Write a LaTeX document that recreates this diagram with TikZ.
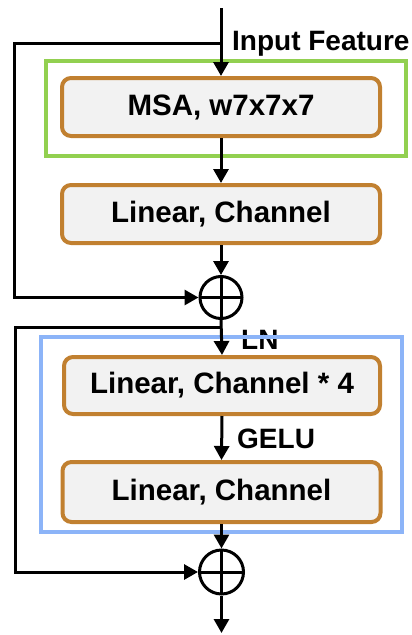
\documentclass[tikz,border=0pt]{standalone}
\usepackage{fontspec}
\setmainfont{Liberation Sans}
\usetikzlibrary{arrows.meta}
\definecolor{boxedge}{RGB}{193,128,48}
\definecolor{boxfill}{RGB}{242,242,242}
\definecolor{attgreen}{RGB}{146,208,80}
\definecolor{mlpblue}{RGB}{140,180,248}
\tikzset{
  unit/.style={draw=boxedge, fill=boxfill, line width=4pt, rounded corners=9pt,
    minimum width=318pt, minimum height=58pt, inner sep=0pt,
    font=\fontsize{29.5}{32}\selectfont\bfseries},
  sumnode/.style={draw, circle, line width=3pt, minimum size=42pt, inner sep=0pt,
    path picture={\draw[line width=3pt] (path picture bounding box.north) -- (path picture bounding box.south)
      (path picture bounding box.west) -- (path picture bounding box.east);}},
  frame/.style={draw=#1, line width=3.5pt, inner sep=0pt},
  lab/.style={font=\fontsize{28}{30}\selectfont\bfseries, inner sep=0pt, anchor=west},
  flow/.style={line width=3pt, -{Triangle[width=15pt,length=14pt]}}
}
\begin{document}
\begin{tikzpicture}[x=1pt, y=-1pt]
\useasboundingbox (0,0) rectangle (412,635);
\fill[white] (0,0) rectangle (412,635);

% attention sub-block
\node[frame=attgreen, minimum width=360pt, minimum height=95pt] (attn) at (226,108.5) {};
\node[unit] (msa) at (221,107) {MSA, w7x7x7};
\node[unit] (lin1) at (221,214) {Linear, Channel};
\node[sumnode] (sum1) at (221,297.5) {};

% MLP sub-block
\node[lab] (ln) at (241,339.5) {LN};
\node[frame=mlpblue, minimum width=361pt, minimum height=195pt] (mlp) at (221.5,434.5) {};
\node[unit, minimum height=57pt, minimum width=316pt] (lin4) at (222,385.5) {Linear, Channel * 4};
\node[unit, minimum height=60pt] (lin2) at (221.5,492) {Linear, Channel};
\node[sumnode, minimum size=44pt] (sum2) at (221.5,572) {};

\node[lab] (inp) at (232,43.5) {Input Feature};
\node[lab] (gelu) at (237,438.5) {GELU};

% wiring points
\coordinate (src) at (221,8);
\coordinate (tap1) at (221,43);
\coordinate (left1) at (14,43);
\coordinate (tap2) at (221,327);
\coordinate (left2) at (15,327);
\coordinate (dst) at (221.5,633);

% main path
\draw[flow] (src) -- (msa.north);
\draw[flow] (msa.south) -- (lin1.north);
\draw[flow] (lin1.south) -- (sum1.north);
\draw[flow] (sum1.south) -- (lin4.north);
\draw[flow] (lin4.south) -- (lin2.north);
\draw[flow] (lin2.south) -- (sum2.north);
\draw[flow] (sum2.south) -- (dst);

% residual connections
\draw[flow] (tap1) -- (left1) |- (sum1.west);
\draw[flow] (tap2) -- (left2) |- (sum2.west);
\end{tikzpicture}
\end{document}
